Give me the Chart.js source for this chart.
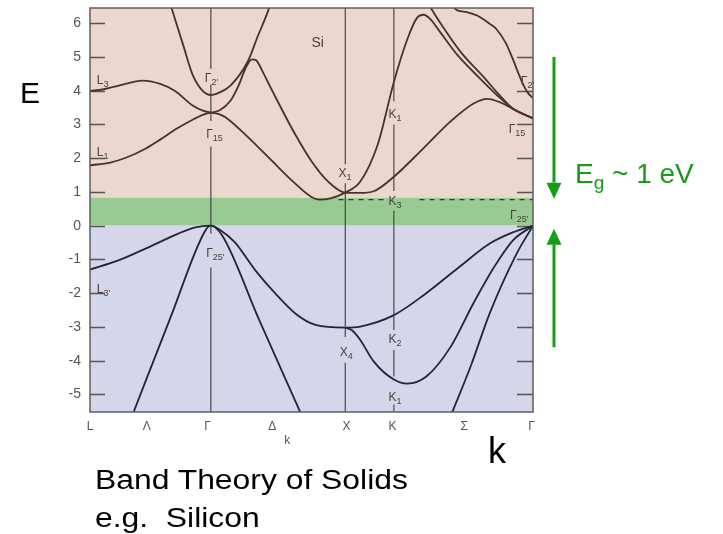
<!DOCTYPE html>
<html>
<head>
<meta charset="utf-8">
<script src="https://cdn.jsdelivr.net/npm/chart.js@4.4.1/dist/chart.umd.min.js"></script>
<style>
  html, body { margin: 0; padding: 0; background: #fff; }
  body { width: 723px; height: 534px; position: relative; overflow: hidden; font-family: Arial, "Liberation Sans", sans-serif; }
  #bands { position: absolute; left: 0; top: 0; }
  .note { position: absolute; white-space: nowrap; line-height: 1; color: #000; }
  #eLabel { left: 20px; top: 78px; font-size: 30px; }
  #kLabel { left: 488px; top: 433px; font-size: 36px; }
  #gapLabel { left: 575px; top: 160px; font-size: 28px; color: #179c17; }
  #gapLabel sub { font-size: 19px; vertical-align: -6px; line-height: 0; }
  #caption { left: 95px; top: 461px; font-size: 27px; line-height: 38px; transform: scaleX(1.18); transform-origin: 0 0; }
</style>
</head>
<body>
<canvas id="bands" width="723" height="534"></canvas>
<div class="note" id="eLabel">E</div>
<div class="note" id="kLabel">k</div>
<div class="note" id="gapLabel">E<sub>g</sub> ~ 1 eV</div>
<div class="note" id="caption">Band Theory of Solids<br>e.g.&nbsp; Silicon</div>
<script>
// ---- axis ranges and ticks ----
const eMin = -5.52, eMax = 6.45;
const kMax = 3.28;
const gapTop = 0.83;      // top of the green gap band (eV)
const cbmLevel = 0.77;    // dashed conduction band minimum level

const kTickVals = [0, 0.42, 0.87, 1.35, 1.90, 2.24, 2.77, 3.27];
const kTickNames = ['L', 'Λ', 'Γ', 'Δ', 'X', 'K', 'Σ', 'Γ'];
const eTickVals = [-5, -4, -3, -2, -1, 0, 1, 2, 3, 4, 5, 6];

// ---- conduction bands ----
// L3 -> Γ15 -> Δ minimum -> X1 -> steep K1 branch -> Γ15
const kCondA = [0, 0.11, 0.22, 0.39, 0.52, 0.63, 0.76, 0.84, 0.895, 0.96, 1.00, 1.15, 1.35, 1.50, 1.64, 1.70, 1.78, 1.89, 2.00, 2.13, 2.25, 2.35, 2.42, 2.47, 2.52, 2.59, 2.72, 2.89, 3.01, 3.13, 3.28];
const eCondA = [3.99, 4.05, 4.16, 4.30, 4.20, 3.99, 3.56, 3.40, 3.35, 3.30, 3.22, 2.70, 1.91, 1.32, 0.85, 0.77, 0.81, 0.98, 1.30, 2.40, 4.26, 5.53, 6.15, 6.25, 6.12, 5.75, 5.06, 4.35, 3.88, 3.47, 3.18];
// L1 -> Γ15 -> hump -> X1 -> K3 branch -> Γ15
const kCondB = [0, 0.15, 0.27, 0.41, 0.52, 0.64, 0.76, 0.84, 0.895, 0.96, 1.04, 1.10, 1.15, 1.20, 1.23, 1.28, 1.33, 1.39, 1.52, 1.64, 1.76, 1.89, 2.00, 2.10, 2.25, 2.47, 2.67, 2.84, 2.94, 3.04, 3.15, 3.28];
const eCondB = [1.79, 1.87, 2.02, 2.28, 2.55, 2.87, 3.14, 3.29, 3.35, 3.42, 3.70, 4.15, 4.65, 4.93, 4.90, 4.55, 4.15, 3.68, 2.70, 1.91, 1.32, 0.98, 0.97, 1.02, 1.45, 2.30, 3.09, 3.62, 3.76, 3.65, 3.42, 3.18];
// Γ2' band on the L-Γ-X side
const kCondG2 = [0.56, 0.60, 0.69, 0.76, 0.84, 0.895, 0.96, 1.04, 1.17, 1.24, 1.32, 1.37];
const eCondG2 = [7.00, 6.50, 5.35, 4.47, 3.97, 3.87, 3.95, 4.15, 4.88, 5.59, 6.38, 7.00];
// second Σ branch running down next to the K1 branch
const kCondC = [2.50, 2.55, 2.62, 2.75, 2.92, 3.02, 3.13, 3.28];
const eCondC = [6.60, 6.28, 5.85, 5.12, 4.38, 3.92, 3.47, 3.18];
// Γ2' band on the Σ side
const kCondD = [2.66, 2.72, 2.79, 2.87, 2.96, 3.01, 3.08, 3.13, 3.20, 3.24, 3.28];
const eCondD = [6.60, 6.38, 6.33, 6.22, 5.98, 5.82, 5.40, 4.94, 4.25, 3.95, 3.78];

// ---- valence bands ----
const kValA = [0, 0.21, 0.46, 0.65, 0.78, 0.895, 0.96, 1.07, 1.22, 1.37, 1.52, 1.67, 1.89, 2.00, 2.25, 2.47, 2.72, 2.96, 3.13, 3.28];
const eValA = [-1.30, -1.03, -0.59, -0.24, -0.05, 0, -0.12, -0.48, -1.30, -2.00, -2.60, -2.94, -3.02, -2.99, -2.65, -2.06, -1.27, -0.53, -0.20, 0];
const kValB = [1.89, 1.94, 2.00, 2.10, 2.25, 2.35, 2.49, 2.67, 2.84, 2.99, 3.13, 3.28];
const eValB = [-3.02, -3.10, -3.38, -4.02, -4.56, -4.68, -4.47, -3.59, -2.29, -1.24, -0.44, 0];
const kValC = [0.32, 0.60, 0.85, 0.895, 0.98, 1.25, 1.56];
const eValC = [-5.55, -2.68, -0.17, 0, -0.30, -2.77, -5.55];
const kValD = [2.68, 2.82, 2.96, 3.16, 3.28];
const eValD = [-5.55, -4.15, -2.59, -0.82, 0];

// ---- symmetry lines (k) and the energy spans where they are drawn ----
const kGamma = 0.895, kX = 1.89, kK = 2.25;
const gammaSpans = [[6.45, 4.65], [4.18, 3.10], [2.35, -0.24], [-1.24, -5.52]];
const xSpans = [[6.45, 1.82], [1.26, -3.30], [-4.06, -5.52]];
const kSpans = [[6.45, 3.68], [3.00, 1.03], [0.44, -3.09], [-3.68, -4.47], [-5.30, -5.52]];

// point labels: main letter, subscript, k, E (baseline)
const symLabels = [
  { m: 'L', s: '3', k: 0.05, e: 4.20 },
  { m: 'L', s: '1', k: 0.05, e: 2.06 },
  { m: 'L', s: "3'", k: 0.05, e: -2.00 },
  { m: 'Γ', s: "2'", k: 0.85, e: 4.26 },
  { m: 'Γ', s: '15', k: 0.86, e: 2.59 },
  { m: 'Γ', s: "25'", k: 0.86, e: -0.94 },
  { m: 'Si', s: '', k: 1.64, e: 5.29, size: 14 },
  { m: 'X', s: '1', k: 1.84, e: 1.44 },
  { m: 'X', s: '4', k: 1.85, e: -3.85 },
  { m: 'K', s: '1', k: 2.21, e: 3.18 },
  { m: 'K', s: '3', k: 2.21, e: 0.62 },
  { m: 'K', s: '2', k: 2.21, e: -3.47 },
  { m: 'K', s: '1', k: 2.21, e: -5.18 },
  { m: 'Γ', s: "2'", k: 3.19, e: 4.18 },
  { m: 'Γ', s: '15', k: 3.10, e: 2.74 },
  { m: 'Γ', s: "25'", k: 3.11, e: 0.20 }
];

const condColor = '#4a3129';
const valColor = '#23233a';
const guideColor = '#3c3c3c';
const gapGreen = '#179c17';
const FONT = '"Liberation Sans", Arial, sans-serif';

function pts(ks, es) {
  return ks.map((k, i) => ({ x: k, y: es[i] }));
}

function band(ks, es, color) {
  return {
    data: pts(ks, es),
    borderColor: color,
    borderWidth: 1.8,
    pointRadius: 0,
    fill: false,
    cubicInterpolationMode: 'monotone'
  };
}

function guide(k, spans) {
  const data = [];
  spans.forEach(([a, b]) => {
    data.push({ x: k, y: a }, { x: k, y: b }, { x: k, y: null });
  });
  return { data, borderColor: guideColor, borderWidth: 1.1, pointRadius: 0, fill: false, spanGaps: false, tension: 0 };
}

function dashed(level) {
  return {
    data: [{ x: 1.84, y: level }, { x: 2.19, y: level }, { x: 2.2, y: null }, { x: 2.44, y: level }, { x: kMax, y: level }],
    borderColor: '#4a3129',
    borderWidth: 1.2,
    borderDash: [5, 5],
    pointRadius: 0,
    fill: false,
    spanGaps: false,
    tension: 0
  };
}

function drawArrow(ctx, x, yTail, yTip) {
  const dir = Math.sign(yTip - yTail);
  const headLen = 16, headHalf = 7.5;
  ctx.beginPath();
  ctx.moveTo(x, yTail);
  ctx.lineTo(x, yTip - dir * headLen);
  ctx.stroke();
  ctx.beginPath();
  ctx.moveTo(x, yTip);
  ctx.lineTo(x - headHalf, yTip - dir * headLen);
  ctx.lineTo(x + headHalf, yTip - dir * headLen);
  ctx.closePath();
  ctx.fill();
}

const decor = {
  id: 'decor',
  beforeDatasetsDraw(chart) {
    const { ctx, chartArea: a, scales: { y } } = chart;
    const yg = y.getPixelForValue(gapTop);
    const y0 = y.getPixelForValue(0);
    ctx.save();
    ctx.fillStyle = '#ecd7cc';
    ctx.fillRect(a.left, a.top, a.width, yg - a.top);
    ctx.fillStyle = '#98ca93';
    ctx.fillRect(a.left, yg, a.width, y0 - yg);
    ctx.fillStyle = '#d4d6ea';
    ctx.fillRect(a.left, y0, a.width, a.bottom - y0);

    // short inward ticks on both energy axes
    ctx.strokeStyle = '#555';
    ctx.lineWidth = 1.5;
    eTickVals.forEach(v => {
      const py = Math.round(y.getPixelForValue(v)) + 0.5;
      ctx.beginPath();
      ctx.moveTo(a.left, py);
      ctx.lineTo(a.left + 15, py);
      ctx.moveTo(a.right - 16, py);
      ctx.lineTo(a.right, py);
      ctx.stroke();
    });
    ctx.restore();
  },
  afterDatasetsDraw(chart) {
    const { ctx, chartArea: a, scales: { x, y } } = chart;
    ctx.save();
    ctx.strokeStyle = '#5e5e5e';
    ctx.lineWidth = 1.5;
    ctx.strokeRect(a.left, a.top, a.width, a.height);

    // symmetry point labels
    ctx.fillStyle = '#4d403c';
    ctx.textBaseline = 'alphabetic';
    ctx.textAlign = 'left';
    symLabels.forEach(l => {
      const px = x.getPixelForValue(l.k);
      const py = y.getPixelForValue(l.e);
      ctx.font = (l.size || 12) + 'px ' + FONT;
      ctx.fillText(l.m, px, py);
      if (l.s) {
        const w = ctx.measureText(l.m).width;
        ctx.font = '9px ' + FONT;
        ctx.fillText(l.s, px + w, py + 3);
      }
    });

    // small k under the Δ tick label
    ctx.fillStyle = '#555';
    ctx.font = '12px ' + FONT;
    ctx.fillText('k', x.getPixelForValue(1.35) + 12, a.bottom + 32);

    // band gap arrows
    ctx.strokeStyle = gapGreen;
    ctx.fillStyle = gapGreen;
    ctx.lineWidth = 3;
    const ax = a.right + 21;
    drawArrow(ctx, ax, y.getPixelForValue(5.0), y.getPixelForValue(gapTop) + 1);
    drawArrow(ctx, ax, y.getPixelForValue(-3.6), y.getPixelForValue(0) + 3);
    ctx.restore();
  }
};

new Chart(document.getElementById('bands'), {
  type: 'line',
  data: {
    datasets: [
      guide(kGamma, gammaSpans),
      guide(kX, xSpans),
      guide(kK, kSpans),
      dashed(cbmLevel),
      band(kCondA, eCondA, condColor),
      band(kCondB, eCondB, condColor),
      band(kCondG2, eCondG2, condColor),
      band(kCondC, eCondC, condColor),
      band(kCondD, eCondD, condColor),
      band(kValA, eValA, valColor),
      band(kValB, eValB, valColor),
      band(kValC, eValC, valColor),
      band(kValD, eValD, valColor)
    ]
  },
  options: {
    responsive: false,
    animation: false,
    devicePixelRatio: 1,
    layout: { padding: { left: 50, right: 190, top: 8, bottom: 92 } },
    plugins: { legend: { display: false }, tooltip: { enabled: false } },
    scales: {
      x: {
        type: 'linear',
        min: 0,
        max: kMax,
        grid: { display: false, drawTicks: false },
        border: { display: false },
        afterBuildTicks: s => { s.ticks = kTickVals.map(v => ({ value: v })); },
        afterFit: s => { s.height = 30; s.paddingLeft = 0; s.paddingRight = 0; },
        ticks: {
          autoSkip: false,
          maxRotation: 0,
          padding: 7,
          color: '#555',
          font: { size: 12, family: FONT },
          callback: (v, i) => kTickNames[i]
        }
      },
      y: {
        min: eMin,
        max: eMax,
        grid: { display: false, drawTicks: false },
        border: { display: false },
        afterBuildTicks: s => { s.ticks = eTickVals.map(v => ({ value: v })); },
        afterFit: s => { s.width = 40; s.paddingTop = 0; s.paddingBottom = 0; },
        ticks: {
          padding: 9,
          color: '#555',
          font: { size: 14, family: FONT }
        }
      }
    }
  },
  plugins: [decor]
});
</script>
</body>
</html>
